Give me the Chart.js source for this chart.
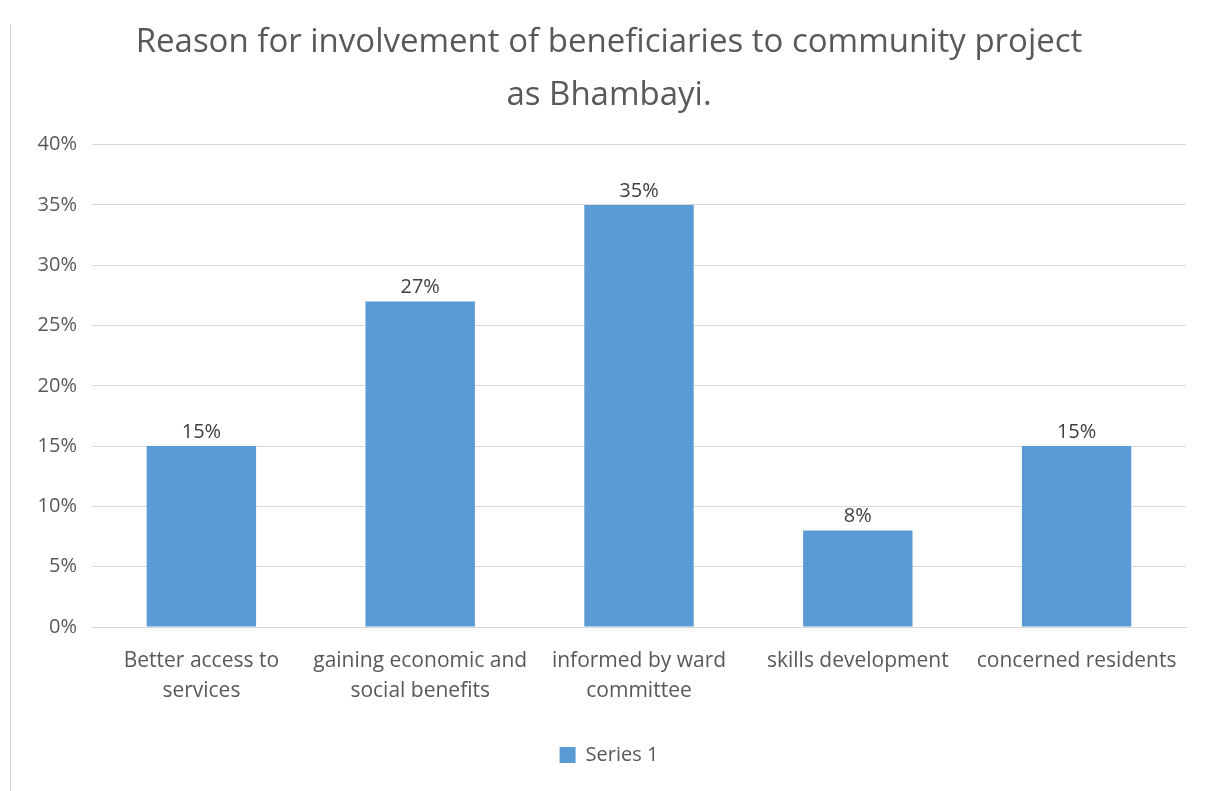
<!DOCTYPE html>
<html>
<head>
<meta charset="utf-8">
<script src="https://cdn.jsdelivr.net/npm/chart.js@4"></script>
<style>
  html, body { margin: 0; padding: 0; background: #ffffff; }
  #wrap { position: relative; width: 1206px; height: 791px; }
  #edge { position: absolute; left: 10px; top: 24px; width: 0; height: 767px; border-left: 1px solid #d9d9d9; }
  canvas { display: block; }
</style>
</head>
<body>
<div id="wrap">
  <div id="edge"></div>
  <canvas id="c" width="1206" height="791"></canvas>
</div>
<script>
const titleLines = ["Reason for involvement of beneficiaries to community project", "as Bhambayi."];
const categories = [
  ["Better access to", "services"],
  ["gaining economic and", "social benefits"],
  ["informed by ward", "committee"],
  "skills development",
  "concerned residents"
];
const seriesName = "Series 1";
const seriesValues = [15, 27, 35, 8, 15];
const yTicks = [0, 5, 10, 15, 20, 25, 30, 35, 40];

const FONT = "'Open Sans', 'DejaVu Sans', sans-serif";

const valueLabels = {
  id: 'valueLabels',
  afterDatasetsDraw(chart) {
    const ctx = chart.ctx;
    ctx.save();
    ctx.font = "20px " + FONT;
    ctx.fillStyle = '#404040';
    ctx.textAlign = 'center';
    ctx.textBaseline = 'bottom';
    chart.data.datasets.forEach((ds, di) => {
      const meta = chart.getDatasetMeta(di);
      meta.data.forEach((bar, i) => {
        ctx.fillText(ds.data[i] + '%', bar.x, bar.y - 4);
      });
    });
    ctx.restore();
  }
};

new Chart(document.getElementById('c'), {
  type: 'bar',
  data: {
    labels: categories,
    datasets: [{
      label: seriesName,
      data: seriesValues,
      backgroundColor: '#5b9bd5',
      borderWidth: 0,
      categoryPercentage: 0.5,
      barPercentage: 1.0
    }]
  },
  options: {
    responsive: false,
    animation: false,
    layout: { padding: { left: 32, right: 20, top: 0, bottom: 16 } },
    plugins: {
      title: {
        display: true,
        text: titleLines,
        color: '#595959',
        font: { family: FONT, size: 33, weight: 'normal', lineHeight: 1.6 },
        padding: { top: 16, bottom: 23 }
      },
      legend: {
        display: true,
        position: 'bottom',
        labels: {
          color: '#595959',
          font: { family: FONT, size: 20 },
          boxWidth: 16,
          boxHeight: 16,
          padding: 10
        }
      },
      tooltip: { enabled: false }
    },
    scales: {
      x: {
        grid: { display: false },
        border: { display: true, color: '#d9d9d9', width: 1 },
        ticks: {
          color: '#595959',
          font: { family: FONT, size: 21, lineHeight: 1.43 },
          padding: 11,
          maxRotation: 0,
          autoSkip: false
        },
        afterFit(scale) { scale.height = 108; }
      },
      y: {
        min: 0,
        max: 40,
        afterBuildTicks(scale) { scale.ticks = yTicks.map(v => ({ value: v })); },
        grid: { color: '#d9d9d9', lineWidth: 1, drawTicks: false },
        border: { display: false },
        ticks: {
          color: '#595959',
          font: { family: FONT, size: 20 },
          padding: 15,
          callback: v => v + '%'
        },
        afterFit(scale) { scale.width = 60; }
      }
    }
  },
  plugins: [valueLabels]
});
</script>
</body>
</html>
